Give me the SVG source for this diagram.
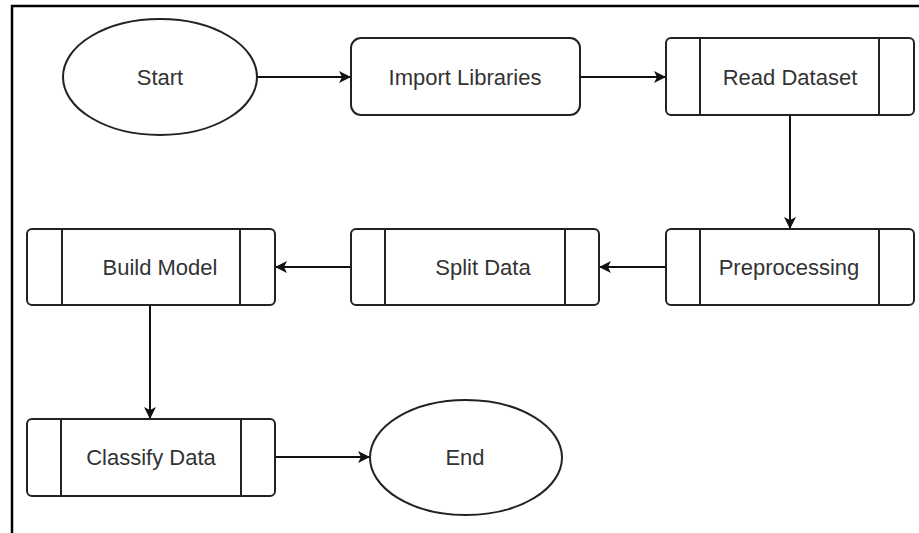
<svg xmlns="http://www.w3.org/2000/svg" width="919" height="533" viewBox="0 0 919 533">
<defs>
<style>
.shape{fill:#fff;stroke:#222;stroke-width:2}
.div{stroke:#222;stroke-width:2;fill:none}
.lbl{font-family:"Liberation Sans",Arial,sans-serif;font-size:22px;fill:#333;text-anchor:middle}
.edge{stroke:#111;stroke-width:2;fill:none;marker-end:url(#arr)}
</style>
<marker id="arr" viewBox="0 0 12 12" refX="11" refY="6" markerWidth="12" markerHeight="12" markerUnits="userSpaceOnUse" orient="auto">
<path d="M0,0 L12,6 L0,12 L3,6 Z" fill="#111"/>
</marker>
</defs>
<rect width="919" height="533" fill="#fff"/>
<g id="frame">
<path d="M12,533 L12,6 L919,6" fill="none" stroke="#000" stroke-width="2.5"/>
</g>
<g id="connectors">
<path class="edge" d="M257,77 L350,77"/>
<path class="edge" d="M580,77 L665,77"/>
<path class="edge" d="M790,115 L790,228"/>
<path class="edge" d="M666,267 L600,267"/>
<path class="edge" d="M351,267 L276,267"/>
<path class="edge" d="M150,305 L150,418"/>
<path class="edge" d="M275,457 L369,457"/>
</g>
<g id="start">
<ellipse class="shape" cx="160" cy="77" rx="97" ry="58"/>
<text class="lbl" x="160" y="85">Start</text>
</g>
<g id="import-libraries">
<rect class="shape" x="351" y="38" width="229" height="77" rx="10"/>
<text class="lbl" x="465" y="85">Import Libraries</text>
</g>
<g id="read-dataset">
<rect class="shape" x="666" y="38" width="248" height="77" rx="5"/>
<path class="div" d="M700,38 V115 M879,38 V115"/>
<text class="lbl" x="790" y="85">Read Dataset</text>
</g>
<g id="preprocessing">
<rect class="shape" x="666" y="229" width="248" height="76" rx="5"/>
<path class="div" d="M700,229 V305 M879,229 V305"/>
<text class="lbl" x="789" y="275">Preprocessing</text>
</g>
<g id="split-data">
<rect class="shape" x="351" y="229" width="248" height="76" rx="5"/>
<path class="div" d="M385,229 V305 M565,229 V305"/>
<text class="lbl" x="483" y="275">Split Data</text>
</g>
<g id="build-model">
<rect class="shape" x="27" y="229" width="248" height="76" rx="5"/>
<path class="div" d="M62,229 V305 M240,229 V305"/>
<text class="lbl" x="160" y="275">Build Model</text>
</g>
<g id="classify-data">
<rect class="shape" x="27" y="419" width="248" height="77" rx="5"/>
<path class="div" d="M61,419 V496 M241,419 V496"/>
<text class="lbl" x="151" y="465">Classify Data</text>
</g>
<g id="end">
<ellipse class="shape" cx="466" cy="457.5" rx="96" ry="57.5"/>
<text class="lbl" x="465" y="465">End</text>
</g>
</svg>
